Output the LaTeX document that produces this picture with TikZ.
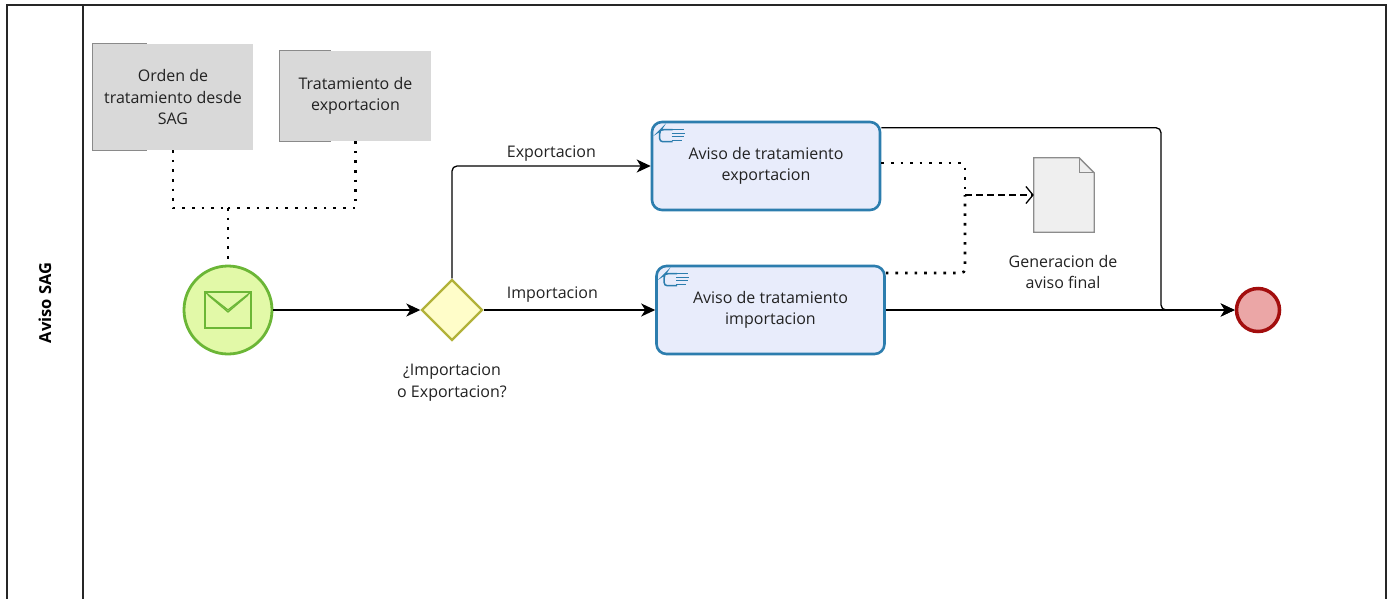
\documentclass[tikz,border=0pt]{standalone}
\usepackage{fontspec}
\setmainfont{Open Sans}
\usetikzlibrary{arrows.meta,shapes.geometric,calc}
\definecolor{txt}{HTML}{222222}
\definecolor{annfill}{HTML}{D9D9D9}
\definecolor{annline}{HTML}{8A8A8A}
\definecolor{taskfill}{HTML}{E8ECFB}
\definecolor{taskline}{HTML}{2C7DAE}
\definecolor{startfill}{HTML}{E2F9A8}
\definecolor{startline}{HTML}{6BB636}
\definecolor{gwfill}{HTML}{FFFDC9}
\definecolor{gwline}{HTML}{B2B23A}
\definecolor{endfill}{HTML}{EBA6A6}
\definecolor{endline}{HTML}{A30E0E}
\definecolor{docfill}{HTML}{EFEFEF}
\definecolor{docline}{HTML}{8C8C8C}
\tikzset{
  lbl/.style={font=\fontsize{16}{21.5}\selectfont, text=txt, align=center, inner sep=0pt},
  annot/.style={lbl, fill=annfill, minimum width=#1, draw=none},
  taskbox/.style={lbl, draw=taskline, fill=taskfill, line width=2.6pt, rounded corners=10pt, minimum width=228pt, minimum height=88pt},
  startev/.style={circle, draw=startline, fill=startfill, line width=2.8pt, minimum size=88pt, inner sep=0pt},
  endev/.style={circle, draw=endline, fill=endfill, line width=3.5pt, minimum size=43pt, inner sep=0pt},
  gwnode/.style={diamond, draw=gwline, fill=gwfill, line width=2.4pt, minimum size=61pt, inner sep=0pt},
  seq/.style={draw=black, line width=1.3pt, -{Stealth[length=14pt,width=13pt,inset=4pt]}},
  assoc/.style={draw=black, line width=2.6pt, dash pattern=on 2.6pt off 7pt},
  dassoc/.style={draw=black, line width=2.6pt, dash pattern=on 7pt off 4pt, -{Straight Barb[line width=1.3pt, length=7pt, width=17pt]}},
  poolline/.style={draw=black!85, line width=1.4pt},
  handicon/.style={draw=taskline, line width=1.5pt},
}
\begin{document}
\begin{tikzpicture}[x=1pt,y=-1pt]
\useasboundingbox (0,0) rectangle (1388,598);
\fill[white] (0,0) rectangle (1388,598);
% pool
\draw[poolline] (7,600) -- (7,5) -- (1386,5) -- (1386,600);
\draw[poolline] (83,5) -- (83,600);
\node[font=\fontsize{16.5}{18}\selectfont\bfseries, text=black, rotate=90, inner sep=0pt] (pool) at (45,303) {Aviso SAG};

% annotations
\node[annot=160pt, minimum height=106pt] (a1) at (173,97) {Orden de\\tratamiento desde\\SAG};
\draw[annline, line width=1.3pt] ([xshift=54pt]a1.north west) -- (a1.north west) -- (a1.south west) -- ([xshift=54pt]a1.south west);
\node[annot=151pt, minimum height=90pt] (a2) at (355.5,96) {Tratamiento de\\exportacion};
\draw[annline, line width=1.3pt] ([xshift=51pt]a2.north west) -- (a2.north west) -- (a2.south west) -- ([xshift=51pt]a2.south west);

% start event
\node[startev] (start) at (228,310) {};
\draw[startline, line width=1.5pt] ($(start.center)+(-23,-18)$) rectangle ($(start.center)+(23,18)$);
\draw[startline, line width=1.3pt] ($(start.center)+(-23,-18)$) -- ($(start.center)+(0,0)$) -- ($(start.center)+(23,-18)$);
\draw[startline, line width=1.3pt] ($(start.center)+(-20,-15)$) -- ($(start.center)+(0,2)$) -- ($(start.center)+(20,-15)$);

% gateway
\node[gwnode] (gw) at (452,310) {};
\node[lbl, anchor=north] (gwl) at (452,364) {¿Importacion\\o Exportacion?};

% tasks
\node[taskbox] (t1) at (766,166) {Aviso de tratamiento\\exportacion};
\node[taskbox] (t2) at (770.5,310) {Aviso de tratamiento\\importacion};
\foreach \t in {t1,t2}{
  \begin{scope}[shift={($(\t.north west)+(9,9)$)}]
    \draw[handicon, rounded corners=3pt] (13,0) -- (1,0) -- (0,1) -- (0,12) -- (13,12);
    \draw[handicon, line width=1.2pt] (10,0) -- (24,0);
    \draw[handicon, line width=1.2pt] (12,3.5) -- (25,3.5);
    \draw[handicon, line width=1.2pt] (12,7) -- (24,7);
    \draw[handicon, line width=1.2pt] (12,10.5) -- (22,10.5);
  \end{scope}
}

% end event
\node[endev] (end) at (1258,310) {};

% data object
\node[minimum width=60pt, minimum height=74pt, inner sep=0pt] (doc) at (1064,195) {};
\draw[docline, fill=docfill, line width=1.3pt] (doc.north west) -- ([xshift=-15pt]doc.north east) -- ([yshift=-15pt]doc.north east) -- (doc.south east) -- (doc.south west) -- cycle;
\draw[docline, line width=1.3pt] ([xshift=-15pt]doc.north east) -- ([xshift=-15pt,yshift=-15pt]doc.north east) -- ([yshift=-15pt]doc.north east);
\node[lbl, anchor=north] (docl) at (1063,255) {Generacion de\\aviso final};

% junction coordinates
\coordinate (aj) at (228,208);
\coordinate (dj) at (965,195);
\coordinate (ej) at (1161,310);

% associations
\draw[assoc] (a1.south) |- (aj);
\draw[assoc] (a2.south) |- (aj);
\draw[assoc] (aj) -- (start.north);
\draw[assoc, rounded corners=4pt] ([yshift=3pt]t1.east) -| (dj);
\draw[assoc, rounded corners=4pt] ([yshift=37pt]t2.east) -| (dj);
\draw[dassoc] (dj) -- (doc.west);

% sequence flows
\draw[seq] (start.east) -- (gw.west);
\draw[seq, rounded corners=5pt] (gw.north) |- node[lbl, pos=0.75, above=4pt] {Exportacion} (t1.west);
\draw[seq] (gw.east) -- node[lbl, pos=0.4, above=7pt] {Importacion} (t2.west);
\draw[seq, rounded corners=5pt] ([yshift=-7pt]t1.north east) -| (ej) -- (end.west);
\draw[seq] (t2.east) -- (end.west);
\end{tikzpicture}
\end{document}
